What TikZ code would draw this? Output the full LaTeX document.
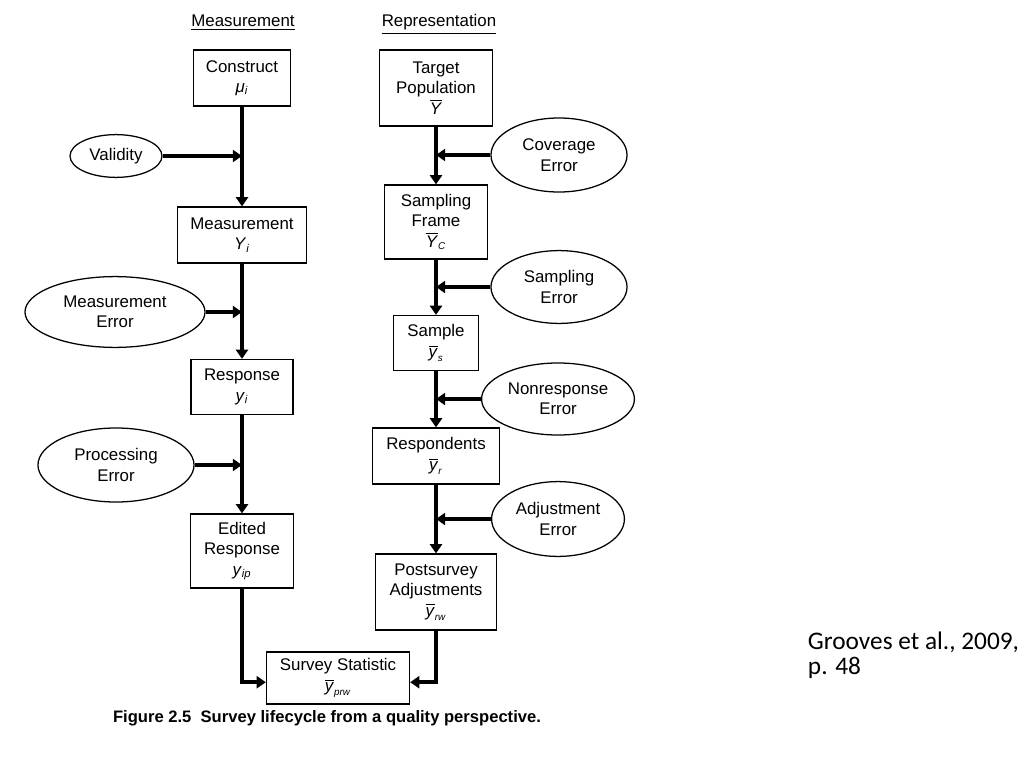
\documentclass[tikz,border=0pt]{standalone}
\usepackage{amsmath}
\usepackage{fontspec}
\setmainfont{Liberation Sans}
\newfontfamily\citefont{Carlito}
\usetikzlibrary{arrows.meta,shapes.geometric}

\newcommand{\barvar}[2]{$\overline{\mbox{\textit{#1}}}_{\mbox{\scriptsize\textit{#2}}}$}
\newcommand{\plainvar}[2]{\textit{#1}\textsubscript{\textit{#2}}}

\tikzset{
  stage/.style={draw,line width=.9pt,align=center,inner sep=2pt,
    font=\fontsize{12}{14.5}\selectfont},
  err/.style={draw,ellipse,line width=.9pt,align=center,inner sep=0pt,
    font=\fontsize{12}{14.5}\selectfont},
  flow/.style={->,line width=2.5pt},
  head/.style={anchor=base,font=\fontsize{12}{14}\selectfont}
}

\begin{document}
\begin{tikzpicture}[>={Triangle[length=6.5pt,width=8.5pt]},x=0.025cm,y=-0.025cm]
				\useasboundingbox (0,0) rectangle (1024,768);

				% column headings
				\path (243,27) node[head] (mhead) {\underline{Measurement}};
				\path (439,27) node[head] (rhead) {\underline{Representation}};

				% measurement side
				\path (242,78) node[stage,minimum width=2.425cm,minimum height=1.4cm] (construct)
					{Construct\\ \textit{μ}\textsubscript{\textit{i}}};
				\path (242,235) node[stage,minimum width=3.225cm,minimum height=1.4cm] (measure)
					{Measurement\\ \plainvar{Y}{i}};
				\path (242,387) node[stage,minimum width=2.55cm,minimum height=1.375cm] (response)
					{Response\\ \plainvar{y}{i}};
				\path (242,551) node[stage,minimum width=2.575cm,minimum height=1.85cm] (edited)
					{Edited\\ Response\\ \plainvar{y}{ip}};

				\path (116,156) node[err,minimum width=2.3cm,minimum height=1.07cm] (validity) {Validity};
				\path (115,312) node[err,minimum width=4.5cm,minimum height=1.77cm] (merror) {Measurement\\ Error};
				\path (116,465) node[err,minimum width=3.9cm,minimum height=1.85cm] (perror) {Processing\\ Error};

				% representation side
				\path (436,88) node[stage,minimum width=2.825cm,minimum height=1.9cm] (target)
					{Target\\ Population\\ $\overline{\mbox{\textit{Y}}}$};
				\path (436,222) node[stage,minimum width=2.575cm,minimum height=1.85cm] (frame)
					{Sampling\\ Frame\\ \barvar{Y}{C}};
				\path (436,343) node[stage,minimum width=2.125cm,minimum height=1.375cm] (sample)
					{Sample\\ \barvar{y}{s}};
				\path (436,456) node[stage,minimum width=3.175cm,minimum height=1.4cm] (respond)
					{Respondents\\ \barvar{y}{r}};
				\path (436,592) node[stage,minimum width=3.025cm,minimum height=1.9cm] (adjust)
					{Postsurvey\\ Adjustments\\ \barvar{y}{rw}};

				\path (559,155) node[err,minimum width=3.4cm,minimum height=1.85cm] (coverr) {Coverage\\ Error};
				\path (559,287) node[err,minimum width=3.4cm,minimum height=1.82cm] (samperr) {Sampling\\ Error};
				\path (558,399) node[err,minimum width=3.82cm,minimum height=1.8cm] (nonerr) {Nonresponse\\ Error};
				\path (558,519) node[err,minimum width=3.32cm,minimum height=1.87cm] (adjerr) {Adjustment\\ Error};

				\path (338,678) node[stage,minimum width=3.575cm,minimum height=1.3cm] (stat)
					{Survey Statistic\\ \barvar{y}{prw}};

				% flow down each column
				\draw[flow] (construct) -- (measure);
				\draw[flow] (measure) -- (response);
				\draw[flow] (response) -- (edited);
				\draw[flow] (target) -- (frame);
				\draw[flow] (frame) -- (sample);
				\draw[flow] (sample) -- (respond);
				\draw[flow] (respond) -- (adjust);
				\draw[flow] (edited.south) |- ([yshift=-3pt]stat.west);
				\draw[flow] (adjust.south) |- ([yshift=-3pt]stat.east);

				% error sources
				\draw[flow] (validity) -- (validity -| construct);
				\draw[flow] (merror) -- (merror -| construct);
				\draw[flow] (perror) -- (perror -| construct);
				\draw[flow] (coverr) -- (coverr -| target);
				\draw[flow] (samperr) -- (samperr -| target);
				\draw[flow] (nonerr) -- (nonerr -| target);
				\draw[flow] (adjerr) -- (adjerr -| target);

				\path (327,718) node[font=\fontsize{11.8}{14}\selectfont\bfseries] (caption)
					{Figure 2.5\ \ Survey lifecycle from a quality perspective.};
				\path (803,655) node[anchor=west,align=left,font=\citefont\fontsize{18}{18}\selectfont] (cite)
					{Grooves et al., 2009,\\ p. 48};

			\end{tikzpicture}
\end{document}
